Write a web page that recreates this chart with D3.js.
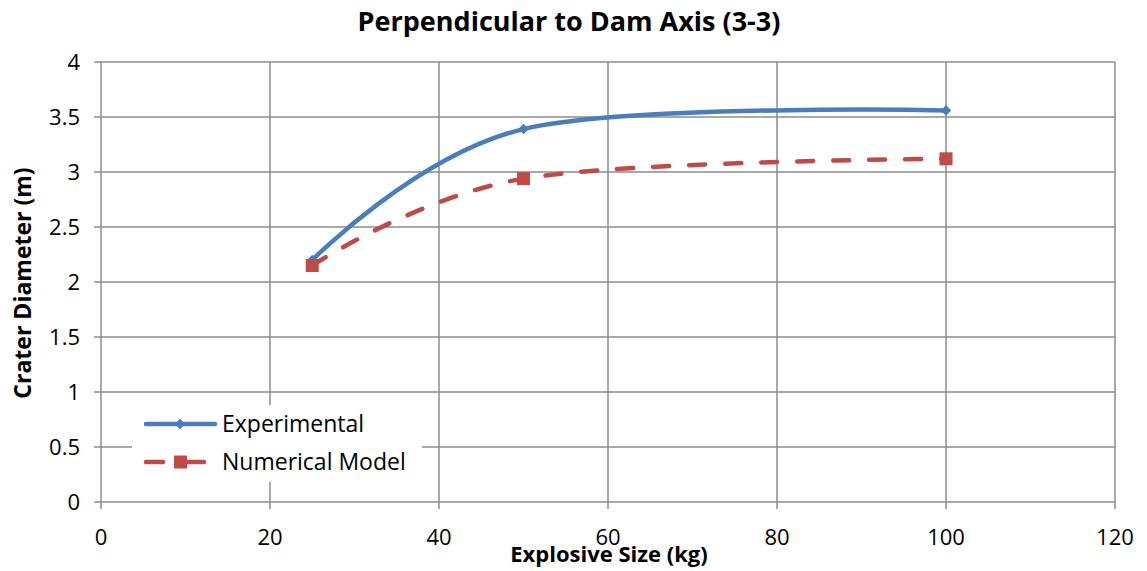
<!DOCTYPE html>
<html>
<head>
<meta charset="utf-8">
<script src="https://cdn.jsdelivr.net/npm/d3@7"></script>
<style>
  body { margin: 0; background: #fff; }
  text { font-family: "Open Sans", sans-serif; fill: #000; }
</style>
</head>
<body>
<div id="chart"></div>
<script>
// data
var sizes = [25, 50, 100];
var experimental = [2.2, 3.39, 3.56];
var numerical = [2.15, 2.94, 3.12];
var xTicks = [0, 20, 40, 60, 80, 100, 120];
var yTicks = [0, 0.5, 1, 1.5, 2, 2.5, 3, 3.5, 4];
var seriesNames = ["Experimental", "Numerical Model"];

var w = 1147, h = 571;
var mLeft = 101, mRight = 1115, mTop = 62, mBottom = 502;

var svg = d3.select("#chart").append("svg")
  .attr("width", w).attr("height", h);

var x = d3.scaleLinear().domain([0, 120]).range([mLeft, mRight]);
var y = d3.scaleLinear().domain([0, 4]).range([mBottom, mTop]);

// gridlines
svg.append("g").selectAll("line").data(yTicks).enter().append("line")
  .attr("x1", mLeft - 7).attr("x2", mRight)
  .attr("y1", d => y(d)).attr("y2", d => y(d))
  .attr("stroke", "#8c8c8c").attr("stroke-width", 1.5);
svg.append("g").selectAll("line").data(xTicks).enter().append("line")
  .attr("x1", d => x(d)).attr("x2", d => x(d))
  .attr("y1", mTop).attr("y2", mBottom + 7)
  .attr("stroke", "#8c8c8c").attr("stroke-width", 1.5);

// tick labels
svg.append("g").selectAll("text").data(yTicks).enter().append("text")
  .attr("x", mLeft - 21).attr("y", d => y(d)).attr("dy", "0.35em")
  .attr("text-anchor", "end").style("font-size", "22px")
  .text(d => d);
svg.append("g").selectAll("text").data(xTicks).enter().append("text")
  .attr("x", d => x(d)).attr("y", mBottom + 43)
  .attr("text-anchor", "middle").style("font-size", "22px")
  .text(d => d);

// titles
svg.append("text").attr("x", 569).attr("y", 31).attr("text-anchor", "middle")
  .style("font-size", "27px").style("font-weight", "bold")
  .text("Perpendicular to Dam Axis (3-3)");
svg.append("text").attr("x", 609).attr("y", 562).attr("text-anchor", "middle")
  .style("font-size", "22px").style("font-weight", "bold")
  .text("Explosive Size (kg)");
svg.append("text").attr("transform", "translate(31,283) rotate(-90)")
  .attr("text-anchor", "middle")
  .style("font-size", "23px").style("font-weight", "bold")
  .text("Crater Diameter (m)");

// Excel-style smoothing
var line = d3.line().x(d => x(d[0])).y(d => y(d[1]))
  .curve(d3.curveCardinal.tension(0));

var expPts = sizes.map((s, i) => [s, experimental[i]]);
var numPts = sizes.map((s, i) => [s, numerical[i]]);

var blue = "#4a7ebb", red = "#be4b48";

svg.append("path").datum(numPts).attr("d", line)
  .attr("fill", "none").attr("stroke", red).attr("stroke-width", 4.5)
  .attr("stroke-dasharray", "16,20").attr("stroke-linecap", "round");
svg.append("path").datum(expPts).attr("d", line)
  .attr("fill", "none").attr("stroke", blue).attr("stroke-width", 4.5)
  .attr("stroke-linecap", "round");

svg.append("g").selectAll("path").data(expPts).enter().append("path")
  .attr("d", d3.symbol(d3.symbolDiamond2, 70))
  .attr("transform", d => "translate(" + x(d[0]) + "," + y(d[1]) + ")")
  .attr("fill", blue);
svg.append("g").selectAll("rect").data(numPts).enter().append("rect")
  .attr("x", d => x(d[0]) - 6.5).attr("y", d => y(d[1]) - 6.5)
  .attr("width", 13).attr("height", 13).attr("fill", red);

// legend
var lg = svg.append("g");
lg.append("rect").attr("x", 132).attr("y", 405).attr("width", 290).attr("height", 77)
  .attr("fill", "#fff");
var colors = [blue, red];
seriesNames.forEach(function(name, i) {
  var cy = 424 + i * 38;
  if (i === 0) {
    lg.append("line").attr("x1", 146).attr("x2", 215).attr("y1", cy).attr("y2", cy)
      .attr("stroke", blue).attr("stroke-width", 4.5).attr("stroke-linecap", "round");
    lg.append("path").attr("d", d3.symbol(d3.symbolDiamond2, 70))
      .attr("transform", "translate(180," + cy + ")").attr("fill", blue);
  } else {
    lg.append("line").attr("x1", 146).attr("x2", 206).attr("y1", cy).attr("y2", cy)
      .attr("stroke", red).attr("stroke-width", 4.5).attr("stroke-linecap", "round")
      .attr("stroke-dasharray", "17,24");
    lg.append("rect").attr("x", 174).attr("y", cy - 6.5).attr("width", 13).attr("height", 13)
      .attr("fill", red);
  }
  lg.append("text").attr("x", 222).attr("y", cy).attr("dy", "0.35em")
    .style("font-size", "23px").text(name);
});
</script>
</body>
</html>
